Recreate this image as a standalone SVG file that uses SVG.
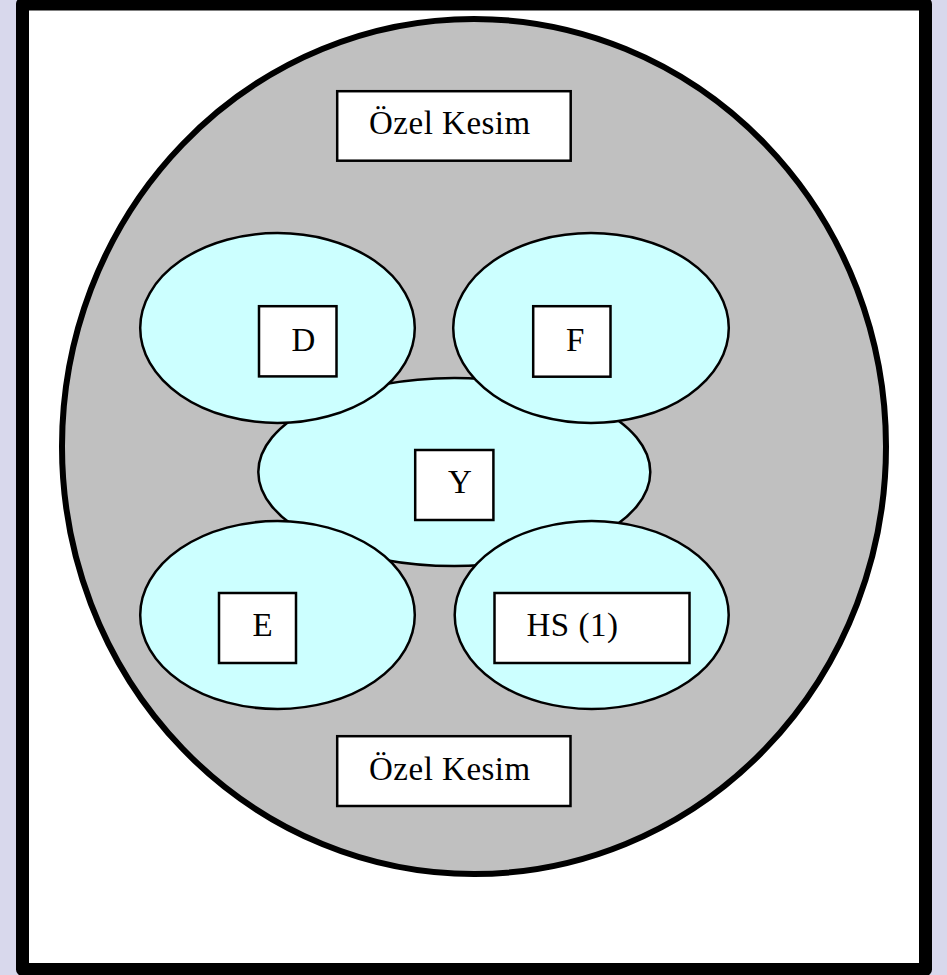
<svg xmlns="http://www.w3.org/2000/svg" width="947" height="975" viewBox="0 0 947 975">
<style>
.blob{fill:#ccffff;stroke:#000;stroke-width:2.5}
.box{fill:#fff;stroke:#000;stroke-width:2.5}
.lbl{font-family:"Liberation Serif","Times New Roman",serif;font-size:33px;letter-spacing:0.5px;fill:#000}
</style>
<rect x="0" y="0" width="947" height="975" fill="#d8d8ec"/>
<rect x="22.5" y="4" width="903" height="965.5" fill="#fff" stroke="#000" stroke-width="13" stroke-linejoin="round"/>
<g id="sector">
<ellipse cx="474" cy="446.5" rx="412" ry="427.5" fill="#c0c0c0" stroke="#000" stroke-width="6"/>
</g>
<g id="connectors"></g>
<g id="ozel-top">
<rect class="box" x="337.2" y="91.2" width="233.5" height="69.5"/>
<text class="lbl" x="369" y="134">Özel Kesim</text>
</g>
<g id="Y">
<ellipse class="blob" cx="454.3" cy="472" rx="196" ry="94"/>
</g>
<g id="D">
<ellipse class="blob" cx="277.5" cy="328" rx="137.3" ry="95"/>
</g>
<g id="F">
<ellipse class="blob" cx="591" cy="328" rx="137.8" ry="95"/>
</g>
<g id="E">
<ellipse class="blob" cx="277.5" cy="615" rx="137.3" ry="94"/>
</g>
<g id="HS">
<ellipse class="blob" cx="591.7" cy="615" rx="137" ry="94"/>
</g>
<g id="D-box">
<rect class="box" x="259" y="306.2" width="77.5" height="70.2"/>
<text class="lbl" x="291.5" y="351">D</text>
</g>
<g id="F-box">
<rect class="box" x="533.2" y="306.2" width="77.3" height="70.5"/>
<text class="lbl" x="566" y="351">F</text>
</g>
<g id="Y-box">
<rect class="box" x="415.2" y="450" width="78.2" height="70"/>
<text class="lbl" x="448" y="493">Y</text>
</g>
<g id="E-box">
<rect class="box" x="219" y="593" width="77" height="70"/>
<text class="lbl" x="252.5" y="636">E</text>
</g>
<g id="HS-box">
<rect class="box" x="494.5" y="593" width="195" height="70"/>
<text class="lbl" x="526.5" y="636">HS (1)</text>
</g>
<g id="ozel-bottom">
<rect class="box" x="337.2" y="736.2" width="233.3" height="69.8"/>
<text class="lbl" x="369" y="780">Özel Kesim</text>
</g>
</svg>
